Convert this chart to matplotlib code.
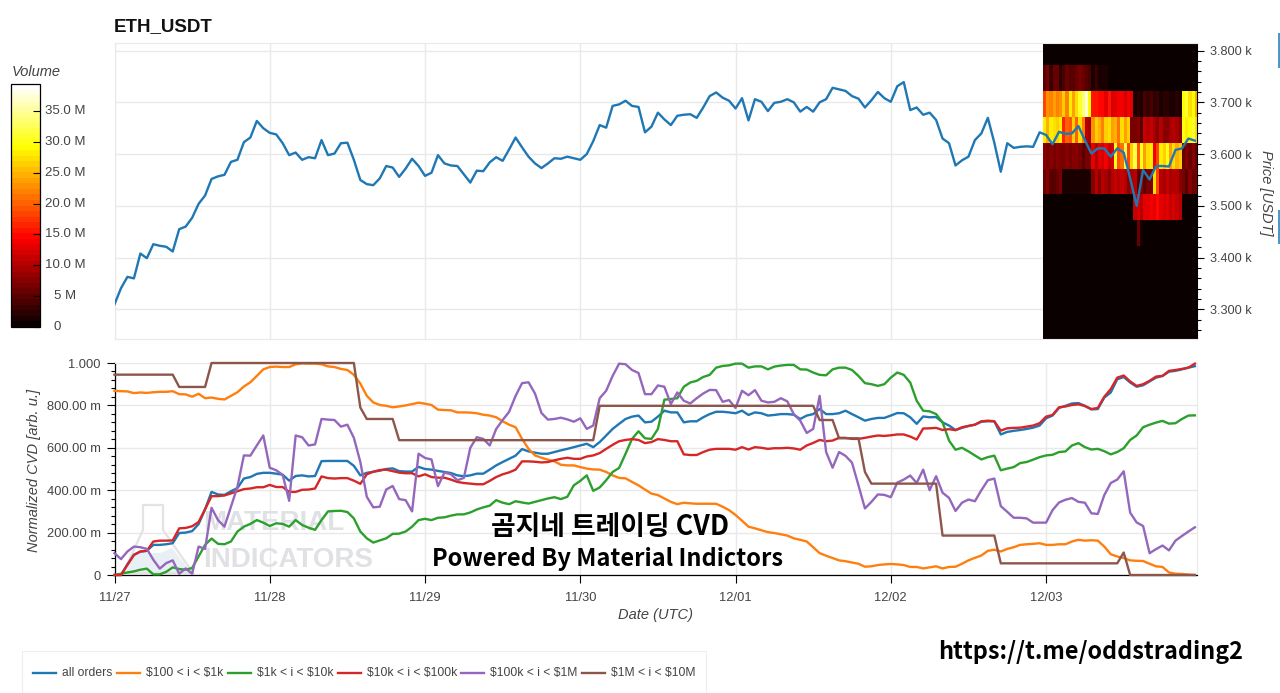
import numpy as np
import matplotlib
matplotlib.use("Agg")
import matplotlib.pyplot as plt
from matplotlib.lines import Line2D
from matplotlib.patches import Polygon, Rectangle
from matplotlib.ticker import MultipleLocator, FuncFormatter
from matplotlib.transforms import Affine2D

plt.rcParams["font.family"] = ["Liberation Sans", "DejaVu Sans"]

# hourly values, 11/27 00:00 to 12/03 23:00
price = [
    3310, 3341, 3363, 3360, 3408, 3399, 3426, 3423, 3421, 3412, 3455, 3460, 3477, 3504, 3520, 3552, 3557, 3560, 3585, 3589, 3623, 3632, 3664, 3650,
    3641, 3638, 3621, 3598, 3603, 3589, 3594, 3592, 3627, 3598, 3601, 3621, 3622, 3589, 3550, 3542, 3540, 3553, 3577, 3574, 3556, 3572, 3591, 3577,
    3558, 3564, 3598, 3582, 3578, 3577, 3561, 3545, 3568, 3567, 3584, 3594, 3587, 3609, 3632, 3613, 3595, 3582, 3573, 3582, 3592, 3591, 3595, 3592,
    3589, 3600, 3625, 3656, 3651, 3693, 3696, 3703, 3693, 3691, 3642, 3653, 3680, 3667, 3656, 3674, 3676, 3677, 3670, 3690, 3712, 3719, 3709, 3703,
    3688, 3708, 3665, 3706, 3701, 3683, 3699, 3701, 3706, 3700, 3682, 3691, 3682, 3700, 3706, 3728, 3725, 3722, 3712, 3707, 3690, 3704, 3720, 3708,
    3701, 3731, 3739, 3685, 3690, 3676, 3680, 3666, 3630, 3621, 3578, 3588, 3595, 3627, 3640, 3670, 3622, 3566, 3621, 3612, 3614, 3615, 3614, 3642,
    3637, 3619, 3643, 3639, 3640, 3654, 3627, 3601, 3611, 3611, 3595, 3611, 3603, 3553, 3500, 3569, 3551, 3577, 3577, 3576, 3608, 3611, 3630, 3626,
]

cvd_all = [
    0, 0, 50, 95, 110, 114, 142, 142, 145, 150, 198, 200, 207, 240, 310, 392, 380, 378, 395, 410, 455, 462, 477, 482,
    482, 478, 473, 445, 467, 470, 465, 467, 537, 538, 538, 538, 538, 515, 470, 482, 487, 492, 500, 503, 490, 488, 488, 510,
    500, 497, 491, 486, 481, 470, 466, 470, 478, 478, 497, 517, 533, 548, 563, 594, 583, 577, 572, 572, 580, 588, 595, 603,
    611, 619, 603, 627, 658, 689, 713, 736, 747, 752, 720, 723, 747, 775, 767, 767, 720, 725, 725, 744, 759, 770, 770, 767,
    763, 775, 755, 767, 763, 752, 755, 759, 759, 756, 736, 752, 759, 783, 759, 759, 763, 775, 759, 744, 728, 736, 741, 741,
    752, 764, 763, 744, 713, 748, 744, 745, 720, 705, 684, 694, 703, 709, 723, 725, 725, 663, 675, 680, 684, 689, 695, 705,
    739, 752, 788, 798, 809, 811, 798, 781, 783, 837, 861, 923, 934, 908, 888, 895, 913, 931, 939, 959, 963, 970, 978, 985,
]
cvd_100_1k = [
    869, 867, 866, 858, 861, 859, 862, 864, 864, 867, 853, 852, 841, 855, 834, 837, 831, 828, 845, 862, 889, 909, 939, 970,
    981, 983, 981, 981, 994, 998, 997, 997, 994, 984, 981, 972, 967, 944, 903, 845, 814, 802, 798, 791, 795, 800, 806, 813,
    808, 802, 780, 778, 777, 767, 767, 766, 763, 756, 752, 744, 725, 709, 697, 642, 595, 564, 553, 544, 536, 520, 517, 517,
    509, 502, 498, 497, 486, 470, 458, 456, 439, 423, 403, 384, 377, 361, 345, 334, 341, 338, 336, 336, 336, 336, 322, 306,
    283, 256, 228, 220, 211, 202, 198, 192, 186, 173, 166, 158, 131, 103, 91, 80, 69, 65, 59, 53, 39, 41, 47, 50,
    52, 50, 47, 38, 38, 31, 36, 41, 31, 38, 39, 53, 69, 81, 92, 114, 119, 111, 123, 131, 142, 145, 147, 150,
    142, 142, 145, 145, 158, 166, 162, 164, 162, 134, 98, 87, 80, 69, 67, 66, 53, 41, 38, 12, 6, 5, 2, 0,
]
cvd_1k_10k = [
    0, 6, 12, 17, 25, 30, 3, 3, 15, 36, 28, 25, 33, 88, 142, 172, 147, 145, 158, 205, 228, 241, 259, 247,
    231, 244, 241, 228, 259, 236, 223, 213, 259, 300, 302, 303, 297, 267, 205, 173, 153, 163, 173, 194, 195, 205, 228, 259,
    265, 259, 270, 272, 280, 286, 286, 295, 309, 319, 327, 353, 341, 334, 348, 342, 337, 345, 353, 361, 367, 358, 369, 423,
    444, 470, 397, 413, 447, 486, 505, 572, 642, 678, 645, 642, 689, 827, 830, 834, 888, 908, 916, 934, 944, 978, 986, 989,
    997, 997, 978, 984, 984, 970, 983, 988, 991, 991, 970, 969, 955, 944, 942, 970, 978, 978, 967, 939, 905, 900, 892, 900,
    931, 955, 944, 908, 822, 775, 772, 759, 720, 634, 591, 600, 583, 564, 545, 556, 563, 494, 502, 509, 528, 533, 544, 556,
    564, 567, 580, 583, 611, 622, 603, 592, 595, 584, 569, 580, 598, 637, 658, 697, 709, 719, 727, 714, 716, 736, 752, 753,
]
cvd_10k_100k = [
    0, 0, 48, 95, 111, 114, 158, 162, 162, 163, 220, 222, 230, 250, 310, 372, 372, 375, 385, 395, 405, 408, 414, 414,
    425, 415, 415, 392, 392, 402, 403, 408, 465, 457, 455, 457, 457, 445, 430, 475, 487, 495, 497, 490, 483, 480, 480, 465,
    475, 462, 459, 459, 450, 439, 434, 431, 428, 428, 444, 462, 475, 484, 497, 536, 536, 534, 531, 533, 541, 548, 553, 548,
    548, 559, 564, 575, 595, 614, 631, 637, 641, 637, 622, 627, 641, 637, 631, 631, 569, 566, 566, 580, 591, 595, 595, 595,
    591, 603, 592, 603, 600, 595, 598, 598, 600, 597, 591, 611, 623, 637, 631, 634, 647, 647, 642, 642, 647, 653, 658, 656,
    659, 663, 663, 653, 639, 691, 692, 694, 684, 688, 683, 697, 703, 709, 725, 728, 725, 681, 692, 694, 695, 700, 705, 716,
    747, 755, 791, 795, 802, 805, 797, 783, 788, 841, 877, 931, 941, 913, 892, 900, 916, 936, 939, 963, 967, 972, 978, 997,
]
cvd_100k_1m = [
    103, 75, 111, 134, 131, 123, 72, 30, 56, 69, 6, 31, 6, 134, 123, 317, 259, 228, 322, 416, 564, 563, 611, 658,
    506, 494, 472, 350, 658, 650, 611, 616, 736, 733, 731, 700, 709, 647, 533, 369, 319, 322, 403, 420, 358, 353, 300, 572,
    552, 545, 419, 483, 475, 447, 458, 600, 650, 642, 611, 689, 731, 770, 845, 905, 909, 856, 764, 733, 736, 742, 734, 723,
    739, 689, 705, 834, 869, 939, 997, 994, 967, 953, 853, 853, 894, 888, 806, 861, 822, 809, 834, 856, 873, 872, 817, 825,
    788, 869, 848, 872, 822, 814, 817, 834, 819, 759, 728, 670, 689, 845, 580, 506, 580, 562, 530, 423, 314, 345, 380, 378,
    367, 436, 450, 469, 434, 497, 400, 466, 388, 364, 302, 341, 356, 348, 400, 447, 455, 325, 298, 270, 270, 267, 247, 247,
    247, 306, 342, 355, 363, 345, 341, 291, 288, 377, 434, 450, 489, 294, 248, 231, 103, 122, 139, 116, 162, 184, 205, 225,
]
cvd_1m_10m = (
    [945] * 10 + [887] * 5 + [1000] * 23 + [790] + [736] * 5 + [636] * 31 + [798] * 34 + [731] * 3
    + [645] * 4 + [486] + [431] * 11 + [186] * 9 + [55] * 19 + [106] + [0] * 11
)

series_labels = ["all orders", r"\$100 < i < \$1k", r"\$1k < i < \$10k", r"\$10k < i < \$100k", r"\$100k < i < \$1M", r"\$1M < i < \$10M"]
series_colors = ["#1f77b4", "#ff7f0e", "#2ca02c", "#d62728", "#9467bd", "#8c564b"]

day_labels = ["11/27", "11/28", "11/29", "11/30", "12/01", "12/02", "12/03"]

# volume heatmap, M per 50 USDT bin and half hour column, last day only
bin_edges = [3243, 3422, 3472, 3522, 3572, 3622, 3672, 3722, 3772, 3815]
vol_empty = [0] * 48
vol_3422 = [0] * 29 + [6, 1] + [0] * 17
vol_3472 = [0] * 28 + [11, 12, 10, 13, 13, 14, 13, 15, 13, 12, 13, 11, 12, 11, 10] + [0] * 5
vol_3522 = [6, 8, 5, 5, 6, 7, 1, 1, 1, 1, 1, 1, 1, 1, 1, 8, 10, 8, 10, 9, 8, 10, 11, 10, 11, 10, 8, 9,
            10, 5, 8, 5, 7, 7, 27, 18, 10, 9, 11, 9, 10, 10, 8, 7, 5, 8, 6, 7]
vol_3572 = [8, 7, 8, 7, 8, 7, 7, 8, 7, 8, 8, 7, 5, 7, 7, 13, 10, 13, 12, 14, 11, 12, 30, 19, 21, 32, 18,
            26, 32, 19, 30, 24, 27, 28, 14, 18, 28, 26, 30, 24, 27, 25, 26, 6, 8, 6, 8, 6]
vol_3622 = [28, 25, 28, 27, 26, 28, 17, 20, 19, 26, 20, 27, 22, 10, 9, 23, 26, 25, 22, 26, 27, 24, 25, 21, 27, 24, 26,
            7, 7, 8, 5, 11, 10, 11, 9, 8, 10, 8, 8, 9, 10, 9, 8, 30, 28, 29, 31, 27]
vol_3672 = [18, 23, 22, 24, 22, 23, 26, 22, 28, 24, 27, 31, 34, 37, 29, 16, 16, 15, 15, 13, 16, 12, 13, 14, 14, 12, 14, 13,
            1, 2, 1, 4, 3, 4, 2, 3, 1, 2, 2, 1, 1, 2, 1, 29, 31, 27, 29, 25]
vol_3722 = [5, 7, 3, 6, 6, 2, 4, 6, 5, 5, 6, 7, 6, 5, 4, 1, 3, 1, 1, 1] + [0.5] * 28

vol_ticks = [0, 5, 10, 15, 20, 25, 30, 35]
vol_tick_labels = ["0", "5 M", "10.0 M", "15.0 M", "20.0 M", "25.0 M", "30.0 M", "35.0 M"]

W, H = 1280, 693
fig = plt.figure(figsize=(W / 100, H / 100), dpi=100)
# pixel coordinates of the reference, y pointing down
px = Affine2D().scale(1 / W, -1 / H).translate(0, 1) + fig.transFigure


def add_axes_px(left, top, right, bottom):
    return fig.add_axes([left / W, 1 - bottom / H, (right - left) / W, (bottom - top) / H])


GRID = "#e9e9e9"
TXT = "#444444"
LW = 1.7
hours = np.arange(len(price))

ax1 = add_axes_px(114.5, 43, 1197, 339)
ax2 = add_axes_px(114.5, 363, 1197, 575)
cax = add_axes_px(11, 84, 40, 327)

# top panel
col_edges = 143.5 + 0.5 * np.arange(49)
vol = np.array([vol_empty, vol_3422, vol_3472, vol_3522, vol_3572, vol_3622, vol_3672, vol_3722, vol_empty])
mesh = ax1.pcolormesh(col_edges, bin_edges, vol, cmap=plt.get_cmap("hot").resampled(44), vmin=0, vmax=39.4,
                      zorder=2, rasterized=True)
ax1.plot(hours, price, color=series_colors[0], lw=LW, zorder=3)
ax1.set_xlim(0, 167.33)
ax1.set_ylim(3243, 3814.5)
ax1.set_xticks(np.arange(0, 168, 24))
ax1.tick_params(axis="x", length=0, labelbottom=False)
ax1.yaxis.tick_right()
ax1.yaxis.set_major_locator(MultipleLocator(100))
ax1.yaxis.set_minor_locator(MultipleLocator(20))
ax1.yaxis.set_major_formatter(FuncFormatter(lambda v, p: f"{v / 1000:.3f} k"))
ax1.tick_params(axis="y", which="major", length=5, width=0.8, labelsize=9.2, labelcolor=TXT, pad=4)
ax1.tick_params(axis="y", which="minor", length=3, width=0.8)
ax1.grid(True, color=GRID, lw=1, zorder=0)
ax1.set_axisbelow(True)
for s in ["top", "left", "bottom"]:
    ax1.spines[s].set_color(GRID)
ax1.spines["right"].set_linewidth(0.8)

# bottom panel
for values, color in zip([cvd_all, cvd_100_1k, cvd_1k_10k, cvd_10k_100k, cvd_100k_1m, cvd_1m_10m], series_colors):
    ax2.plot(hours, values, color=color, lw=LW, zorder=3, clip_on=False, solid_joinstyle="round")
ax2.set_xlim(0, 167.33)
ax2.set_ylim(0, 1000)
ax2.set_xticks(np.arange(0, 168, 24))
ax2.set_xticklabels(day_labels)
ax2.yaxis.set_major_locator(MultipleLocator(200))
ax2.yaxis.set_minor_locator(MultipleLocator(40))
ax2.yaxis.set_major_formatter(FuncFormatter(lambda v, p: "0" if v == 0 else "1.000" if v == 1000 else f"{v:.2f} m"))
ax2.tick_params(axis="both", which="major", length=6, width=0.8, labelsize=9.3, labelcolor=TXT, pad=4)
ax2.tick_params(axis="x", pad=6)
ax2.tick_params(axis="y", which="minor", length=3, width=0.8)
ax2.grid(True, color=GRID, lw=1, zorder=0)
ax2.set_axisbelow(True)
ax2.spines["top"].set_color(GRID)
ax2.spines["right"].set_color(GRID)
ax2.spines["left"].set_linewidth(0.9)
ax2.spines["bottom"].set_linewidth(0.9)

# watermark behind the lines
flask = [(143, 505), (163, 505), (163, 530), (193, 573), (123, 573), (143, 530)]
liquid = [(131, 556), (143, 553), (160, 553), (172, 548), (187, 567), (190, 573), (126, 573)]
ax2.add_patch(Polygon(liquid, closed=True, transform=px, fc="#e8f0f5", ec="none", zorder=1, clip_on=False))
ax2.add_patch(Polygon(flask, closed=True, transform=px, fc="none", ec="#e3e3e3", lw=1.6, zorder=1, clip_on=False))
wm = dict(transform=px, weight="bold", color="#dfe1e5", fontsize=20, va="center", ha="left", zorder=2)
ax2.text(203, 523, "MATERIAL", **wm)
ax2.text(203, 560, "INDICATORS", **wm)

# colour bar
cb = fig.colorbar(mesh, cax=cax)
cb.set_ticks(vol_ticks)
cb.set_ticklabels([])
cax.tick_params(axis="y", which="both", direction="in", length=5, width=0.8, color="black")
cb.outline.set_linewidth(0.9)
cb.outline.set_edgecolor("black")
for v, lab in zip(vol_ticks, vol_tick_labels):
    cax.text(1.59 if v == 0 else 1.86, v, lab, transform=cax.get_yaxis_transform(), ha="center", va="center",
             fontsize=9.5, color=TXT, clip_on=False)

# titles and axis labels
fig.text(114, 27, "ETH_USDT", transform=px, fontsize=13.5, weight="bold", color="#111111", va="center", ha="left")
fig.text(12, 72, "Volume", transform=px, fontsize=10.5, style="italic", color=TXT, va="center", ha="left")
fig.text(1266, 193, "Price [USDT]", transform=px, fontsize=10.5, style="italic", color=TXT, rotation=-90,
         va="center", ha="center")
fig.text(34, 470, "Normalized CVD [arb. u.]", transform=px, fontsize=10.5, style="italic", color=TXT, rotation=90,
         va="center", ha="center")
fig.text(656, 615, "Date (UTC)", transform=px, fontsize=10.5, style="italic", color=TXT, va="center", ha="center")

# legend
fig.add_artist(Rectangle((22, 651), 684, 50, transform=px, fc="white", ec="#eeeeee", lw=0.8, clip_on=True))
line_starts = [33, 117, 228, 338, 461, 582]
for x0, lab, color in zip(line_starts, series_labels, series_colors):
    fig.add_artist(Line2D([x0, x0 + 23], [673, 673], transform=px, color=color, lw=LW))
    fig.text(x0 + 29, 673, lab, transform=px, fontsize=8.7, color=TXT, va="center", ha="left")

# pasted captions
cap = dict(transform=px, family=["Noto Sans CJK KR", "DejaVu Sans"], weight="bold", color="black", va="center",
           zorder=6)
ax2.text(610, 527, "곰지네 트레이딩 CVD", ha="center", fontsize=19.3, **cap)
ax2.text(607, 559, "Powered By Material Indictors", ha="center", fontsize=17, **cap)
fig.text(1091, 652, "https://t.me/oddstrading2", ha="center", fontsize=16.8, **cap)

# bits of the page at the right edge
for top, bottom in [(33, 68), (210, 244)]:
    fig.add_artist(Rectangle((1278, top), 2, bottom - top, transform=px, fc="#4a97c9", ec="none"))

fig.savefig("out.png", dpi=100)
